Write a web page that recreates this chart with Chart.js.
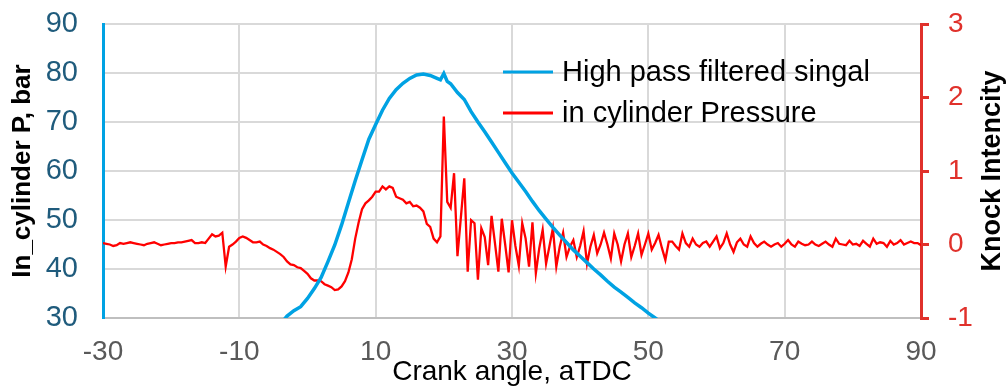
<!DOCTYPE html>
<html>
<head>
<meta charset="utf-8">
<script src="https://cdn.jsdelivr.net/npm/chart.js@4.4.0/dist/chart.umd.min.js"></script>
<style>
  html, body { margin: 0; padding: 0; background: #fff; }
  canvas { display: block; }
</style>
</head>
<body>
<canvas id="knock" width="1008" height="387"></canvas>
<script>
// crank angle ticks
var xTicks = [-30, -10, 10, 30, 50, 70, 90];

// blue series (left axis, bar)
var pressureAngle = [-5, -4, -3, -2, -1, 0, 1, 2, 3, 4, 5, 6, 7, 8, 9, 10, 11, 12, 13, 14, 15, 16, 17, 18, 19, 19.5, 20, 20.5,
  21, 22, 23, 24, 25, 26, 27, 28, 29, 30, 31, 32, 33, 34, 35, 36, 37, 38, 39, 40, 41, 42, 43, 44, 45, 46, 47, 48, 49, 50, 51, 52, 53];
var pressureValue = [27.0, 28.7, 30.4, 31.5, 32.3, 34.0, 36.0, 38.3, 41.5, 44.9, 49.0, 53.5, 58.0, 62.3, 66.5, 69.5, 72.4, 74.8, 76.6, 77.9,
  78.9, 79.6, 79.8, 79.5, 78.9, 78.6, 79.9, 78.3,
  77.8, 76.0, 74.6, 72.1, 70.0, 68.0, 65.9, 63.8, 61.7, 59.6, 57.7, 55.8, 53.8, 51.9, 50.2, 48.5, 46.9, 45.4, 43.9, 42.6, 41.3, 40.0,
  38.8, 37.5, 36.3, 35.3, 34.2, 33.1, 32.1, 31.0, 30.0, 29.0, 28.0];

// red series (right axis), sampled every 0.5 deg from -30
var knockStart = -30;
var knockStep = 0.5;
var knockValue = [
  0.02, 0.01, 0.0, -0.02, -0.01, 0.02, 0.01, 0.02, 0.03, 0.02, 0.01, 0.0, -0.01, 0.01, 0.02, 0.03, 0.01, -0.01, 0.0, 0.01,
  0.02, 0.02, 0.03, 0.03, 0.04, 0.05, 0.06, 0.02, 0.02, 0.03, 0.02,
  0.08, 0.14, 0.11, 0.12, 0.16, -0.30, -0.03, 0.0, 0.04, 0.09, 0.11, 0.09, 0.06, 0.03, 0.03, 0.04, 0.0, -0.02, -0.05, -0.07,
  -0.10, -0.13, -0.17, -0.23, -0.27, -0.28, -0.31, -0.32, -0.36, -0.40,
  -0.46, -0.49, -0.49, -0.50, -0.54, -0.56, -0.58, -0.62, -0.61, -0.57, -0.50, -0.38, -0.20, 0.08, 0.30, 0.48, 0.56, 0.60, 0.65,
  0.72, 0.72, 0.79, 0.75, 0.79, 0.77, 0.65, 0.63, 0.61, 0.56, 0.58, 0.52, 0.53, 0.50, 0.45, 0.28, 0.24, 0.08, 0.03, 0.11,
  1.74, 0.58, 0.50, 0.97, -0.16, 0.37, 0.90, -0.37, 0.33, 0.29, -0.48, 0.22, 0.10, -0.28, 0.39, 0.02, -0.37, 0.35, 0.0, -0.38,
  0.33, -0.02, -0.29, 0.29, 0.08, -0.30, 0.30, -0.39, -0.05, 0.20, -0.26, -0.02, 0.22, -0.30, -0.03, 0.16, -0.17, -0.03, 0.06, -0.17,
  -0.02, 0.18, -0.26, -0.03,
  0.13, -0.12, 0.0, 0.16, 0.0, -0.19, 0.15, 0.0, -0.23, 0.0, 0.15, -0.17, -0.02, 0.15, -0.14, 0.0, 0.15, -0.07, 0.02, 0.13,
  -0.05, -0.21, 0.04, 0.04, -0.02, -0.07, 0.15, 0.02, -0.03, 0.08, 0.0, -0.03, 0.02, 0.04, -0.03, 0.04, 0.11, -0.05, 0.02, 0.15,
  0.0, -0.10, 0.03, 0.08, 0.0, -0.03, 0.11, 0.02, -0.03, 0.01, 0.04, 0.0, -0.03, 0.0, 0.02, -0.03, 0.01, 0.06, 0.0, -0.03,
  0.04, 0.01, -0.01, 0.0, 0.04, 0.0, -0.02, 0.01, 0.04, 0.0, -0.03, 0.08, 0.01, 0.0, -0.01, 0.05, 0.0, 0.01, -0.02, 0.05,
  0.01, -0.03, 0.08, 0.01, 0.03, 0.02, -0.03, 0.05, 0.0, 0.02, 0.06, 0.0, 0.02, 0.04, 0.02, 0.02, -0.01
];

var blueLabel = 'High pass filtered singal';
var redLabel = 'in cylinder Pressure';

var FONT = "'Liberation Sans', Arial, sans-serif";
var BLUE = '#00A2E3';
var RED = '#FF0000';
var AXIS_RED = '#E0312B';

var pressurePts = pressureAngle.map(function (a, i) { return { x: a, y: pressureValue[i] }; });
var knockPts = knockValue.map(function (v, i) { return { x: knockStart + i * knockStep, y: v }; });

// vertical scales: keep tick padding from pushing the plot area down
function noVPad(s) { s.paddingTop = 0; s.paddingBottom = 0; }

// legend drawn inside the plot, lines + text
var innerLegend = {
  id: 'innerLegend',
  afterDraw: function (chart) {
    var ctx = chart.ctx;
    var rows = [72, 113];
    ctx.save();
    chart.data.datasets.forEach(function (ds, i) {
      var y = rows[i];
      ctx.strokeStyle = ds.borderColor;
      ctx.lineWidth = 3;
      ctx.beginPath();
      ctx.moveTo(503, y);
      ctx.lineTo(553, y);
      ctx.stroke();
      ctx.fillStyle = '#000';
      ctx.font = '29px ' + FONT;
      ctx.textAlign = 'left';
      ctx.textBaseline = 'middle';
      ctx.fillText(ds.label, 562, y + 1);
    });
    // right axis title, reads bottom to top
    var area = chart.chartArea;
    ctx.translate(993, (area.top + area.bottom) / 2);
    ctx.rotate(-Math.PI / 2);
    ctx.font = 'bold 27px ' + FONT;
    ctx.textAlign = 'center';
    ctx.fillText('Knock Intencity', 0, 0);
    ctx.restore();
  }
};

new Chart(document.getElementById('knock'), {
  type: 'line',
  data: {
    datasets: [
      { label: blueLabel, data: pressurePts, yAxisID: 'y', borderColor: BLUE, backgroundColor: BLUE,
        borderWidth: 3.5, pointRadius: 0, tension: 0 },
      { label: redLabel, data: knockPts, yAxisID: 'y1', borderColor: RED, backgroundColor: RED,
        borderWidth: 2.3, pointRadius: 0, tension: 0 }
    ]
  },
  options: {
    responsive: false,
    animation: false,
    layout: { padding: { top: 24, left: 0, right: 0, bottom: 0 } },
    plugins: { legend: { display: false }, tooltip: { enabled: false } },
    scales: {
      x: {
        type: 'linear', min: -30, max: 90,
        afterBuildTicks: function (s) { s.ticks = xTicks.map(function (v) { return { value: v }; }); },
        afterFit: function (s) { s.height = 69; },
        grid: { color: '#D9D9D9', lineWidth: 2, drawTicks: false },
        border: { color: '#BFBFBF', width: 2 },
        ticks: { color: '#595959', font: { family: FONT, size: 28 }, padding: 17, maxRotation: 0 },
        title: { display: true, text: 'Crank angle, aTDC', color: '#000', font: { family: FONT, size: 28 }, padding: { top: 0, bottom: -2 } }
      },
      y: {
        position: 'left', min: 30, max: 90,
        afterFit: function (s) { s.width = 103; noVPad(s); },
        ticks: { stepSize: 10, color: '#1F5B7C', font: { family: FONT, size: 29 }, padding: 25 },
        grid: { color: '#D9D9D9', lineWidth: 2, drawTicks: false },
        border: { color: BLUE, width: 3 },
        title: { display: true, text: 'In_cylinder P, bar', color: '#000', font: { family: FONT, size: 26, weight: 'bold' }, padding: { top: 7, bottom: 0 } }
      },
      y1: {
        position: 'right', min: -1, max: 3,
        afterFit: function (s) { s.width = 87; noVPad(s); },
        ticks: { stepSize: 1, color: AXIS_RED, font: { family: FONT, size: 28 }, padding: 19 },
        grid: { drawOnChartArea: false, drawTicks: true, tickLength: 8, color: AXIS_RED, lineWidth: 3 },
        border: { color: AXIS_RED, width: 3 }
      }
    }
  },
  plugins: [innerLegend]
});
</script>
</body>
</html>
